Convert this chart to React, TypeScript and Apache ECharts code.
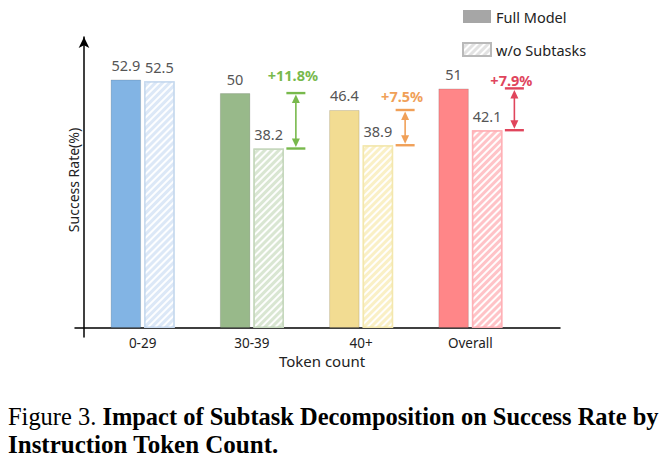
import React, { useEffect, useRef } from "react";
import * as echarts from "echarts";

const categories = ["0-29", "30-39", "40+", "Overall"];
const fullModel = [52.9, 50, 46.4, 51];
const withoutSubtasks = [52.5, 38.2, 38.9, 42.1];
const gainLabels = ["", "+11.8%", "+7.5%", "+7.9%"];
const seriesNames = ["Full Model", "w/o Subtasks"];
const yMax = 63;

const fullColors = ["#82b4e4", "#98b98a", "#f2dc92", "#ff8688"];
const hatchFill = ["#dce8f7", "#d9e6d2", "#faf0c6", "#ffc3c7"];
const hatchBorder = ["#c8daef", "#c6d8bd", "#f3e7ae", "#ffb1b7"];
const gainColors = ["", "#78b94c", "#f0a058", "#e0455c"];
const labelLift = [0, 18, 14, 8];

const FONT = "Noto Sans";
const SERIF = "Liberation Serif";

const decal = {
  symbol: "rect",
  symbolSize: 1,
  dashArrayX: [1, 0],
  dashArrayY: [2, 3],
  rotation: -Math.PI / 4,
  color: "rgba(255,255,255,0.95)",
};

export default function App() {
  const ref = useRef<HTMLDivElement>(null);
  useEffect(() => {
    document.body.style.margin = "0";
    const chart = echarts.init(ref.current!, null, { renderer: "svg" });
    const gainData = categories
      .map((c, i) => [i, fullModel[i], withoutSubtasks[i]])
      .filter((d) => gainLabels[d[0] as number]);
    chart.setOption({
      animation: false,
      backgroundColor: "#fff",
      legend: {
        orient: "vertical",
        left: 457,
        top: 4,
        itemWidth: 28,
        itemHeight: 13,
        itemGap: 18,
        icon: "rect",
        selectedMode: false,
        data: seriesNames,
        textStyle: { fontFamily: FONT, fontSize: 14.5, color: "#222" },
      },
      grid: [
        { left: 88, width: 437, top: 32, bottom: 138, outerBoundsMode: "none" },
        { left: 75, right: 111, top: 32, bottom: 138, outerBoundsMode: "none" },
        { left: 84, width: 10, top: 37, bottom: 129, outerBoundsMode: "none" },
      ],
      xAxis: [
        {
          gridIndex: 0,
          type: "category",
          data: categories,
          axisLine: { show: false },
          axisTick: { show: false },
          axisLabel: { margin: 8, fontFamily: FONT, fontSize: 13.5, color: "#222" },
        },
        {
          gridIndex: 1,
          type: "value",
          min: 0,
          max: 1,
          axisLine: { show: true, onZero: false, lineStyle: { color: "#000", width: 1.5 } },
          axisTick: { show: false },
          axisLabel: { show: false },
          splitLine: { show: false },
          name: "Token count",
          nameLocation: "middle",
          nameGap: 25,
          nameTextStyle: { fontFamily: FONT, fontSize: 15, color: "#222", padding: [0, 0, 0, 9] },
        },
        { gridIndex: 2, type: "value", show: false, min: 0, max: 1 },
      ],
      yAxis: [
        {
          gridIndex: 0,
          type: "value",
          min: 0,
          max: yMax,
          axisLine: { show: false },
          axisTick: { show: false },
          axisLabel: { show: false },
          splitLine: { show: false },
          name: "Success Rate(%)",
          nameLocation: "middle",
          nameGap: 8,
          nameTextStyle: { fontFamily: FONT, fontSize: 14, color: "#222" },
        },
        { gridIndex: 1, type: "value", show: false, min: 0, max: 1 },
        {
          gridIndex: 2,
          type: "value",
          min: 0,
          max: 1,
          axisLine: {
            show: true,
            onZero: false,
            symbol: ["none", "arrow"],
            symbolSize: [8, 11],
            lineStyle: { color: "#000", width: 1.5 },
          },
          axisTick: { show: false },
          axisLabel: { show: false },
          splitLine: { show: false },
        },
      ],
      series: [
        {
          name: seriesNames[0],
          type: "bar",
          xAxisIndex: 0,
          yAxisIndex: 0,
          barWidth: 30.5,
          barGap: "10%",
          itemStyle: { color: "#a6a6a6" },
          label: {
            show: true,
            position: "top",
            distance: 7,
            color: "#555",
            fontFamily: FONT,
            fontSize: 14.5,
          },
          data: fullModel.map((v, i) => ({
            value: v,
            itemStyle: { color: fullColors[i], borderColor: "rgba(0,0,0,0.13)", borderWidth: 1 },
          })),
        },
        {
          name: seriesNames[1],
          type: "bar",
          xAxisIndex: 0,
          yAxisIndex: 0,
          barWidth: 30.5,
          barGap: "10%",
          itemStyle: { color: "#e2e2e2", borderColor: "#b9b9b9", borderWidth: 1.5, decal },
          label: {
            show: true,
            position: "top",
            distance: 7,
            color: "#555",
            fontFamily: FONT,
            fontSize: 14.5,
          },
          data: withoutSubtasks.map((v, i) => ({
            value: v,
            itemStyle: { color: hatchFill[i], borderColor: hatchBorder[i], borderWidth: 1.5, decal },
          })),
        },
        {
          type: "custom",
          xAxisIndex: 0,
          yAxisIndex: 0,
          silent: true,
          z: 5,
          data: gainData,
          renderItem: (params: any, api: any) => {
            const i = api.value(0);
            const top = api.coord([i, api.value(1)]);
            const bot = api.coord([i, api.value(2)]);
            const x = top[0] + 44;
            const c = gainColors[i];
            const hw = 9.5;
            return {
              type: "group",
              children: [
                { type: "line", shape: { x1: x - hw, y1: top[1], x2: x + hw, y2: top[1] }, style: { stroke: c, lineWidth: 2.4 } },
                { type: "line", shape: { x1: x - hw, y1: bot[1], x2: x + hw, y2: bot[1] }, style: { stroke: c, lineWidth: 2.4 } },
                { type: "line", shape: { x1: x, y1: top[1] + 6, x2: x, y2: bot[1] - 6 }, style: { stroke: c, lineWidth: 1.6 } },
                { type: "polygon", shape: { points: [[x, top[1] + 1.5], [x - 4, top[1] + 10], [x + 4, top[1] + 10]] }, style: { fill: c } },
                { type: "polygon", shape: { points: [[x, bot[1] - 1.5], [x - 4, bot[1] - 10], [x + 4, bot[1] - 10]] }, style: { fill: c } },
                {
                  type: "text",
                  x: x - 3,
                  y: top[1] - labelLift[i],
                  style: {
                    text: gainLabels[i],
                    fill: c,
                    fontFamily: FONT,
                    fontWeight: "bold",
                    fontSize: 14.5,
                    align: "center",
                    verticalAlign: "middle",
                  },
                },
              ],
            };
          },
        },
      ],
      graphic: [
        {
          type: "text",
          left: 8,
          top: 404,
          scaleX: 0.978,
          style: {
            text: "{r|Figure 3.} {b|Impact of Subtask Decomposition on Success Rate by}",
            rich: {
              r: { fontFamily: SERIF, fontSize: 25, fill: "#000" },
              b: { fontFamily: SERIF, fontSize: 25, fontWeight: "bold", fill: "#000" },
            },
            fontFamily: SERIF,
            fontSize: 25,
          },
        },
        {
          type: "text",
          left: 8,
          top: 432,
          style: {
            text: "Instruction Token Count.",
            fontFamily: SERIF,
            fontSize: 25,
            fontWeight: "bold",
            fill: "#000",
          },
        },
      ],
    });
    return () => chart.dispose();
  }, []);
  return <div ref={ref} style={{ position: "fixed", left: 0, top: 0, width: 671, height: 466 }} />;
}
